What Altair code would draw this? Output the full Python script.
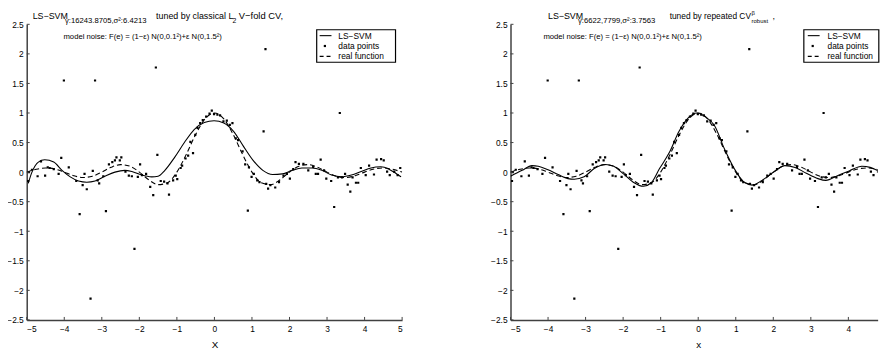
import altair as alt
import pandas as pd

# ---------------- data ----------------
DATA_X = [-4.96, -4.94, -4.86, -4.71, -4.62, -4.51, -4.44, -4.39, -4.28, -4.15, -4.08, -4.01,
          -3.88, -3.68, -3.59, -3.51, -3.46, -3.40, -3.30, -3.24, -3.18, -3.11, -3.07, -2.96,
          -2.89, -2.81, -2.72, -2.65, -2.61, -2.52, -2.48, -2.37, -2.28, -2.20, -2.13, -2.04,
          -1.98, -1.93, -1.82, -1.71, -1.63, -1.56, -1.52, -1.43, -1.34, -1.25, -1.21, -1.10,
          -1.03, -0.99, -0.90, -0.86, -0.77, -0.70, -0.64, -0.57, -0.51, -0.45, -0.38, -0.31,
          -0.22, -0.13, -0.07, -0.01, 0.08, 0.15, 0.24, 0.33, 0.41, 0.48, 0.57, 0.63, 0.75,
          0.82, 0.89, 0.92, 0.99, 1.05, 1.14, 1.20, 1.31, 1.36, 1.38, 1.43, 1.49, 1.62, 1.72,
          1.84, 1.93, 2.01, 2.10, 2.16, 2.25, 2.37, 2.50, 2.63, 2.70, 2.76, 2.83, 2.92, 2.98,
          3.11, 3.19, 3.29, 3.34, 3.40, 3.48, 3.55, 3.62, 3.68, 3.77, 3.83, 3.90, 4.03, 4.12,
          4.25, 4.32, 4.44, 4.51, 4.60, 4.67, 4.79, 4.88, 4.95]
DATA_Y = [-0.15, 0.00, 0.04, -0.07, 0.18, -0.06, 0.08, 0.07, 0.05, -0.03, 0.24, 1.55,
          0.08, -0.15, -0.71, -0.22, -0.03, -0.29, -2.14, 0.02, 1.55, -0.14, -0.19, -0.07,
          -0.66, 0.13, 0.17, 0.20, 0.25, 0.20, 0.25, 0.01, -0.06, -0.07, -1.30, -0.08,
          0.13, -0.05, -0.03, -0.25, -0.39, 1.77, 0.29, -0.15, -0.16, -0.19, -0.38, -0.14,
          -0.06, -0.12, 0.07, 0.11, 0.23, 0.28, 0.51, 0.32, 0.63, 0.75, 0.83, 0.88,
          0.94, 0.99, 1.04, 0.98, 0.97, 0.96, 0.86, 0.87, 0.80, 0.83, 0.57, 0.54, 0.35,
          0.13, -0.65, 0.08, -0.08, -0.03, -0.14, -0.17, 0.69, 2.08, -0.20, -0.28, -0.22, -0.26, -0.17,
          -0.06, -0.03, -0.11, 0.05, 0.17, 0.14, 0.14, 0.03, 0.09, -0.03, -0.03, 0.21, 0.03, -0.11,
          -0.15, -0.59, -0.09, 1.00, -0.09, -0.03, -0.21, -0.33, -0.09, -0.18, -0.18, 0.07, -0.05, 0.11,
          -0.04, 0.21, 0.22, 0.20, 0.01, -0.05, 0.01, -0.05, 0.07]

REAL_X = [-5, -4.75, -4.5, -4.25, -4, -3.75, -3.5, -3.25, -3, -2.75, -2.5, -2.25, -2, -1.75,
          -1.5, -1.25, -1, -0.75, -0.5, -0.25, 0, 0.25, 0.5, 0.75, 1, 1.25, 1.5, 1.75, 2,
          2.25, 2.5, 2.75, 3, 3.25, 3.5, 3.75, 4, 4.25, 4.5, 4.75, 5]
REAL_Y = [0.0, 0.047, 0.071, 0.053, 0.0, -0.060, -0.091, -0.069, 0.0, 0.082, 0.127, 0.100,
          0.0, -0.129, -0.212, -0.180, 0.0, 0.300, 0.637, 0.900, 1.0, 0.900, 0.637, 0.300,
          0.0, -0.180, -0.212, -0.129, 0.0, 0.100, 0.127, 0.082, 0.0, -0.069, -0.091, -0.060,
          0.0, 0.053, 0.071, 0.047, 0.0]

SVM1_X = [-4.96, -4.86, -4.69, -4.52, -4.28, -4.06, -3.84, -3.62, -3.40, -3.18, -2.92, -2.65,
          -2.39, -2.20, -1.94, -1.67, -1.50, -1.32, -1.06, -0.80, -0.54, -0.27, -0.01, 0.25,
          0.51, 0.77, 1.03, 1.29, 1.55, 1.81, 2.07, 2.33, 2.60, 2.86, 3.12, 3.38, 3.65, 3.91,
          4.17, 4.43, 4.65, 4.83, 4.97]
SVM1_Y = [-0.19, 0.00, 0.17, 0.21, 0.17, 0.03, -0.08, -0.15, -0.17, -0.15, -0.07, 0.00,
          0.03, 0.01, -0.05, -0.08, -0.07, 0.03, 0.25, 0.50, 0.72, 0.84, 0.87, 0.83,
          0.69, 0.44, 0.20, 0.03, -0.04, -0.03, 0.03, 0.07, 0.07, 0.03, -0.05, -0.08, -0.05, 0.01,
          0.07, 0.09, 0.05, -0.02, -0.08]

SVM2_X = [-5.0, -4.69, -4.43, -4.26, -4.0, -3.73, -3.47, -3.30, -3.04, -2.77, -2.47, -2.25,
          -1.99, -1.73, -1.46, -1.25, -1.03, -0.77, -0.51, -0.26, -0.04, 0.18, 0.44, 0.70,
          0.96, 1.22, 1.44, 1.70, 2.01, 2.31, 2.58, 2.88, 3.19, 3.40, 3.71, 4.02, 4.36, 4.58,
          4.83, 5.0]
SVM2_Y = [-0.07, 0.03, 0.11, 0.10, 0.04, -0.04, -0.11, -0.12, -0.08, 0.06, 0.13, 0.10,
          -0.03, -0.17, -0.24, -0.18, 0.06, 0.33, 0.69, 0.92, 1.00, 0.94, 0.78, 0.39,
          0.06, -0.17, -0.22, -0.14, 0.00, 0.11, 0.08, -0.02, -0.11, -0.14, -0.06, 0.02, 0.10, 0.08,
          0.01, -0.05]

X_TICKS = [-5, -4, -3, -2, -1, 0, 1, 2, 3, 4, 5]
Y_TICKS = [-2.5, -2, -1.5, -1, -0.5, 0, 0.5, 1, 1.5, 2, 2.5]

LEGEND_LABELS = ["LS\u2212SVM", "data points", "real function"]

PX_PER_UNIT = 38.1
H = 300
FONT = "Liberation Sans"


def panel(svm_x, svm_y, xtitle, title_pieces, leg, xmax):
    W = (xmax + 5) * PX_PER_UNIT
    ticks = [t for t in X_TICKS if t <= xmax]
    xs = alt.Scale(domain=[-5, xmax], nice=False, zero=False)
    ys = alt.Scale(domain=[-2.5, 2.5], nice=False, zero=False)
    xaxis = alt.Axis(values=ticks, ticks=False, tickSize=0, grid=False, title=xtitle,
                     labelFontSize=8.5, labelFont=FONT, labelPadding=5, labelColor="black",
                     domainColor="#404040", domainWidth=1.5,
                     titleFont=FONT, titleFontSize=10, titleFontWeight="normal",
                     titleBaseline="middle", titleAlign="center", titleY=24.5,
                     titleX=5 * PX_PER_UNIT, titleColor="black")
    yaxis = alt.Axis(values=Y_TICKS, ticks=False, tickSize=0, grid=False, title=None,
                     format="~g", labelFontSize=8.5, labelFont=FONT, labelPadding=3.5,
                     labelColor="black", domainColor="#404040", domainWidth=1.5,
                     minExtent=22.7, maxExtent=22.7)
    X = alt.X("x:Q", scale=xs, axis=xaxis)
    Y = alt.Y("y:Q", scale=ys, axis=yaxis)

    svm = alt.Chart(pd.DataFrame({"x": svm_x, "y": svm_y})).mark_line(
        color="black", strokeWidth=1.1, interpolate="monotone", clip=True).encode(x=X, y=Y)
    real = alt.Chart(pd.DataFrame({"x": REAL_X, "y": REAL_Y})).mark_line(
        color="black", strokeWidth=1.1, strokeDash=[5, 3], interpolate="monotone",
        clip=True).encode(x=X, y=Y)
    pts = alt.Chart(pd.DataFrame({"x": DATA_X, "y": DATA_Y})).mark_square(
        color="black", size=5, opacity=1, filled=True, clip=True).encode(x=X, y=Y)
    xt = alt.Chart(pd.DataFrame({"x": ticks})).mark_rule(
        color="#404040", strokeWidth=1).encode(x=X, y=alt.value(H), y2=alt.value(H - 3))
    yt = alt.Chart(pd.DataFrame({"y": Y_TICKS})).mark_rule(
        color="#404040", strokeWidth=1).encode(y=Y, x=alt.value(0), x2=alt.value(3))

    layers = [svm, real, pts, xt, yt]

    for (txt, px, py, fs) in title_pieces:
        layers.append(alt.Chart(pd.DataFrame({"t": [txt]})).mark_text(
            align="left", baseline="alphabetic", font=FONT, fontSize=fs, color="black"
        ).encode(x=alt.value(px), y=alt.value(py), text="t:N"))

    # legend
    bx0, bx1, sx0, dotx, tx = leg
    by0, by1 = 5.5, 38.5
    rows = [11.5, 22, 32.5]
    layers.append(alt.Chart(pd.DataFrame({"a": [0]})).mark_rect(
        fill="white", stroke="black", strokeWidth=1.2).encode(
        x=alt.value(bx0), x2=alt.value(bx1), y=alt.value(by0), y2=alt.value(by1)))
    layers.append(alt.Chart(pd.DataFrame({"a": [0]})).mark_rule(
        color="black", strokeWidth=1.1).encode(
        x=alt.value(sx0), x2=alt.value(sx0 + 12), y=alt.value(rows[0])))
    layers.append(alt.Chart(pd.DataFrame({"a": [0]})).mark_rule(
        color="black", strokeWidth=1.1, strokeDash=[4, 3]).encode(
        x=alt.value(sx0), x2=alt.value(sx0 + 13), y=alt.value(rows[2])))
    layers.append(alt.Chart(pd.DataFrame({"a": [0]})).mark_square(
        color="black", size=5, opacity=1, filled=True).encode(
        x=alt.value(dotx), y=alt.value(rows[1])))
    layers.append(alt.Chart(pd.DataFrame({"t": LEGEND_LABELS, "yy": rows})).mark_text(
        align="left", baseline="middle", font=FONT, fontSize=8.5, color="black").encode(
        x=alt.value(tx), y=alt.Y("yy:Q", scale=None), text="t:N"))

    return alt.layer(*layers).properties(width=W, height=H)


left_title = [
    ("LS\u2212SVM", 6, -5.5, 9),
    ("\u03b3:16243.8705,\u03c3\u00b2:6.4213", 38.8, -1.5, 7.8),
    ("tuned by classical L", 131.3, -5.5, 9),
    ("2", 208.8, -1.5, 7),
    ("V\u2212fold CV,", 215.3, -5.5, 9.5),
    ("model noise: F(e) = (1\u2212\u03b5) N(0,0.1\u00b2)+\u03b5 N(0,1.5\u00b2)", 37.3, 14.5, 7.8),
]
right_title = [
    ("LS\u2212SVM", 38, -5.5, 9),
    ("\u03b3:6622,7799,\u03c3\u00b2:3.7563", 68.5, -1.5, 7.8),
    ("tuned by repeated CV", 161.5, -5.5, 8.5),
    ("\u03b2", 244.7, -9, 6),
    ("robust", 244.7, -1, 6),
    (",", 266, -5.5, 9),
    ("model noise: F(e) = (1\u2212\u03b5) N(0,0.1\u00b2)+\u03b5 N(0,1.5\u00b2)", 33.4, 14.5, 7.8),
]

# legend geometry: box x0, box x1, sample x0, dot x, text x (relative to plot)
left = panel(SVM1_X, SVM1_Y, "X", left_title, (294.3, 374.3, 297.3, 302.6, 316.3), 5)
right = panel(SVM2_X, SVM2_Y, "x", right_title, (297.7, 373.8, 301.7, 306.7, 321.7), 4.78)

chart = alt.hconcat(left, right, spacing=86).properties(
    padding={"left": -4, "top": 0, "right": 0, "bottom": 0}, background="white"
).configure_view(stroke=None)

chart.save("out.html", embed_options={"renderer": "svg", "actions": False})
